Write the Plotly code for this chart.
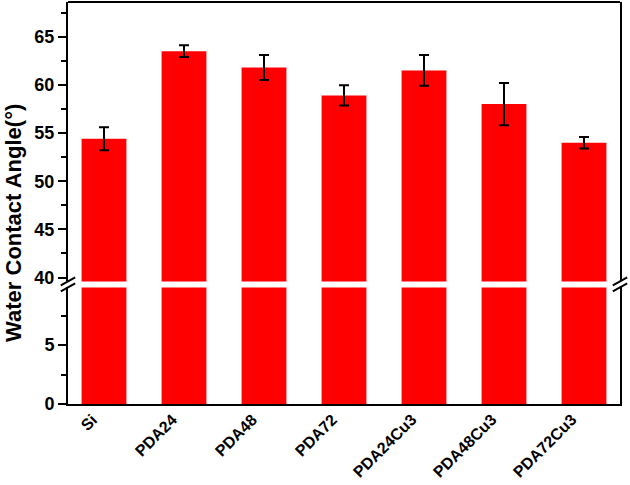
import plotly.graph_objects as go

# sample names and measured water contact angles (deg)
samples = ["Si", "PDA24", "PDA48", "PDA72", "PDA24Cu3", "PDA48Cu3", "PDA72Cu3"]
angle = [54.4, 63.5, 61.8, 58.9, 61.5, 58.0, 54.0]
angle_err = [1.2, 0.6, 1.3, 1.05, 1.6, 2.2, 0.6]

red = "#FF0000"
fam = "Liberation Sans, Arial, sans-serif"

fig = go.Figure()

# lower segment of the broken axis (0 - ~10)
fig.add_trace(go.Bar(x=samples, y=angle, marker=dict(color=red, line=dict(width=0)),
                     xaxis="x", yaxis="y", showlegend=False, hoverinfo="skip"))
# upper segment (40 - 68) with error bars
fig.add_trace(go.Bar(x=samples, y=angle, marker=dict(color=red, line=dict(width=0)),
                     error_y=dict(type="data", array=angle_err, color="black", thickness=2, width=5),
                     xaxis="x", yaxis="y2", showlegend=False))

axis_common = dict(showline=True, linecolor="black", linewidth=2, mirror=True,
                   ticks="outside", ticklen=8, tickwidth=2, tickcolor="black",
                   showgrid=False, zeroline=False, automargin=False,
                   tickfont=dict(family=fam, size=18, color="black", weight="bold"))

fig.update_layout(
    width=630, height=485,
    margin=dict(l=68, r=10, t=2, b=81, autoexpand=False),
    plot_bgcolor="white", paper_bgcolor="white",
    bargap=0.44,
    xaxis=dict(anchor="y", showline=True, linecolor="black", linewidth=2,
               ticks="", showgrid=False, range=[-0.45, 6.45],
               showticklabels=False, automargin=False),
    yaxis=dict(domain=[0, 0.29], range=[0, 9.9], tickvals=[0, 5],
               minor=dict(ticks="outside", ticklen=5, tickwidth=2, tickcolor="black", dtick=2.5, tick0=0),
               **axis_common),
    yaxis2=dict(domain=[0.305, 1], range=[39.6, 68.6], tickvals=[40, 45, 50, 55, 60, 65],
                minor=dict(ticks="outside", ticklen=5, tickwidth=2, tickcolor="black", dtick=2.5, tick0=40),
                **axis_common),
)

# rotated category labels, top-right corner hanging off each category position
for s in samples:
    fig.add_annotation(text="<b>%s</b>" % s, x=s, xref="x", y=0, yref="paper",
                       xanchor="right", yanchor="top", textangle=-45, showarrow=False,
                       xshift=-1, yshift=-4,
                       font=dict(family=fam, size=16, color="black"))

# top frame line
fig.add_shape(type="line", xref="paper", yref="paper", x0=0, x1=1, y0=1, y1=1,
              line=dict(color="black", width=2))

# break marks on both vertical axes
for xp in [0, 1]:
    for yp in [0.29, 0.305]:
        fig.add_shape(type="line", xref="paper", yref="paper",
                      x0=xp - 0.013, x1=xp + 0.013, y0=yp - 0.01, y1=yp + 0.01,
                      line=dict(color="black", width=2))

fig.add_annotation(text="<b>Water Contact Angle(°)</b>", xref="paper", yref="paper",
                   x=-0.1, xanchor="center", y=0.45, textangle=-90, showarrow=False,
                   font=dict(family=fam, size=22, color="black"))

# drop the default page margin so the figure sits at the window's corner
fig.write_html("out.html", config={"displayModeBar": False},
               post_script="document.body.style.margin='0';")
